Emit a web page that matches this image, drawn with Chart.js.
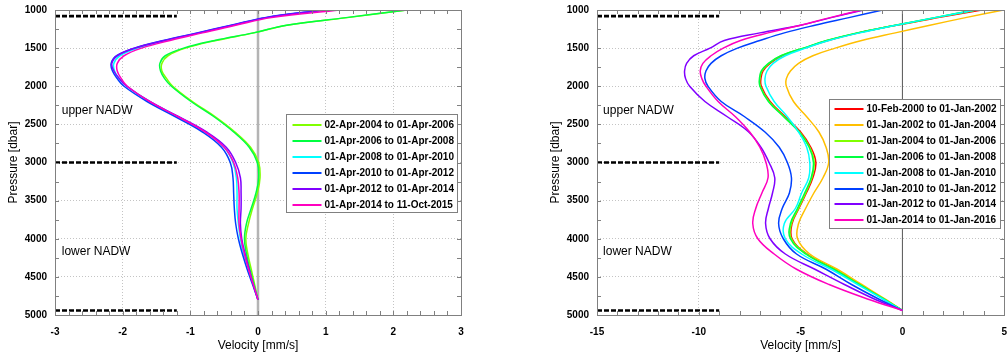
<!DOCTYPE html>
<html>
<head>
<meta charset="utf-8">
<title>NADW velocity profiles</title>
<script src="https://cdn.jsdelivr.net/npm/chart.js@4.4.1/dist/chart.umd.min.js"></script>
<style>
  html, body { margin: 0; padding: 0; background: #fff; }
  body { width: 1007px; height: 356px; position: relative; overflow: hidden; }
  /* canvases start 4px above the page so the plot box lands at y=10 */
  canvas { position: absolute; top: -4px; }
  #chart-left { left: 0; }
  #chart-right { left: 542px; }
</style>
</head>
<body>
<canvas id="chart-left" width="490" height="360"></canvas>
<canvas id="chart-right" width="476" height="360"></canvas>
<script>
'use strict';

/* ---------- values ---------- */

// left panel: 2-year means, Apr-2004 .. Oct-2015
const PRESSURE_LEFT = [1000, 1100, 1200, 1300, 1400, 1500, 1600, 1700, 1800, 1900, 2000,
  2200, 2400, 2600, 2800, 3000, 3200, 3400, 3600, 3800, 4000, 4200, 4400, 4600, 4800];

const V_2004_2006 = [2.2, 1.32, 0.43, -0.06, -0.62, -1.07, -1.33, -1.42, -1.42, -1.35, -1.26,
  -0.97, -0.63, -0.34, -0.11, 0.01, 0.03, -0.01, -0.08, -0.14, -0.18, -0.15, -0.1, -0.05, 0];
const V_2006_2008 = [2.2, 1.3, 0.42, -0.07, -0.64, -1.1, -1.37, -1.45, -1.44, -1.38, -1.28,
  -0.99, -0.65, -0.36, -0.13, -0.01, 0.01, -0.03, -0.1, -0.17, -0.2, -0.17, -0.12, -0.06, 0];
const V_2008_2010 = [1.0, 0.13, -0.37, -0.86, -1.35, -1.78, -2.04, -2.13, -2.12, -2.05, -1.94,
  -1.6, -1.18, -0.78, -0.5, -0.37, -0.32, -0.31, -0.31, -0.29, -0.26, -0.21, -0.14, -0.07, 0];
const V_2010_2012 = [0.95, 0.1, -0.4, -0.9, -1.4, -1.83, -2.09, -2.17, -2.15, -2.08, -1.98,
  -1.64, -1.22, -0.82, -0.54, -0.41, -0.37, -0.36, -0.35, -0.33, -0.29, -0.23, -0.16, -0.08, 0];
const V_2012_2014 = [1.0, 0.12, -0.38, -0.88, -1.38, -1.82, -2.08, -2.16, -2.13, -2.05, -1.94,
  -1.6, -1.17, -0.76, -0.47, -0.33, -0.26, -0.25, -0.25, -0.26, -0.24, -0.19, -0.13, -0.07, 0];
const V_2014_2015 = [1.21, 0.2, -0.33, -0.82, -1.3, -1.72, -1.98, -2.08, -2.08, -2.02, -1.93,
  -1.6, -1.18, -0.78, -0.5, -0.36, -0.3, -0.28, -0.28, -0.28, -0.25, -0.2, -0.14, -0.07, 0];

const LABELS_LEFT = [
  '02-Apr-2004 to 01-Apr-2006',
  '01-Apr-2006 to 01-Apr-2008',
  '01-Apr-2008 to 01-Apr-2010',
  '01-Apr-2010 to 01-Apr-2012',
  '01-Apr-2012 to 01-Apr-2014',
  '01-Apr-2014 to 11-Oct-2015',
];
const COLORS_LEFT = ['#80ff00', '#00ff40', '#00ffff', '#0040ff', '#8000ff', '#ff00bf'];

// right panel: 2-year means, Feb-2000 .. Jan-2016
const PRESSURE_RIGHT = [1000, 1100, 1200, 1300, 1400, 1500, 1600, 1700, 1800, 1900, 2000,
  2200, 2400, 2600, 2800, 3000, 3200, 3400, 3600, 3800, 4000, 4200, 4400, 4600, 4800, 4940];

const V_2000_2002 = [3.9, 1.75, -0.3, -2.15, -3.65, -4.8, -5.9, -6.5, -6.85, -6.95, -6.93,
  -6.5, -5.75, -5.0, -4.5, -4.25, -4.4, -4.72, -5.08, -5.42, -5.42, -4.68, -3.33, -2.08, -0.85, 0];
const V_2002_2004 = [4.96, 3.1, 1.35, -0.35, -2.0, -3.3, -4.4, -5.1, -5.5, -5.7, -5.7,
  -5.35, -4.7, -4.1, -3.75, -3.62, -3.9, -4.35, -4.75, -5.1, -5.15, -4.55, -3.2, -2.0, -0.8, 0];
const V_2004_2006R = [3.65, 1.62, -0.33, -2.2, -3.7, -4.85, -5.95, -6.55, -6.9, -7.0, -6.98,
  -6.55, -5.8, -5.05, -4.55, -4.33, -4.45, -4.75, -5.1, -5.45, -5.45, -4.7, -3.35, -2.1, -0.85, 0];
const V_2006_2008R = [3.55, 1.58, -0.35, -2.22, -3.72, -4.87, -5.97, -6.58, -6.93, -7.02, -7.0,
  -6.58, -5.83, -5.08, -4.58, -4.37, -4.48, -4.8, -5.15, -5.5, -5.5, -4.75, -3.38, -2.12, -0.86, 0];
const V_2008_2010R = [3.6, 1.6, -0.3, -2.1, -3.6, -4.75, -5.75, -6.35, -6.65, -6.75, -6.7,
  -6.3, -5.65, -5.1, -4.7, -4.55, -4.6, -4.95, -5.25, -5.8, -5.75, -4.95, -3.5, -2.2, -0.9, 0];
const V_2010_2012R = [-0.97, -2.63, -4.3, -5.8, -7.0, -8.1, -8.9, -9.4, -9.65, -9.7, -9.55,
  -8.9, -7.75, -6.75, -6.05, -5.65, -5.45, -5.55, -5.9, -6.08, -5.85, -5.2, -3.75, -2.5, -1.1, 0];
const V_2012_2014R = [-1.9, -3.5, -5.0, -7.0, -8.75, -9.45, -10.25, -10.6, -10.7, -10.65, -10.45,
  -9.7, -8.6, -7.55, -6.95, -6.55, -6.27, -6.38, -6.58, -6.72, -6.5, -5.75, -4.3, -2.85, -1.3, 0];
const V_2014_2016R = [-2.0, -3.55, -5.0, -6.6, -7.95, -8.8, -9.4, -9.8, -9.93, -9.85, -9.65,
  -9.05, -8.2, -7.5, -7.0, -6.7, -6.6, -6.9, -7.2, -7.35, -7.1, -6.3, -5.2, -3.6, -1.6, 0];

const LABELS_RIGHT = [
  '10-Feb-2000 to 01-Jan-2002',
  '01-Jan-2002 to 01-Jan-2004',
  '01-Jan-2004 to 01-Jan-2006',
  '01-Jan-2006 to 01-Jan-2008',
  '01-Jan-2008 to 01-Jan-2010',
  '01-Jan-2010 to 01-Jan-2012',
  '01-Jan-2012 to 01-Jan-2014',
  '01-Jan-2014 to 01-Jan-2016',
];
const COLORS_RIGHT = ['#ff0000', '#ffbf00', '#80ff00', '#00ff40', '#00ffff', '#0040ff', '#8000ff', '#ff00bf'];

// layer boundaries (dashed black) and their horizontal extent
const NADW_LEVELS = [1080, 3000, 4940];
const NADW_SPAN_LEFT = [-3, -1.2];
const NADW_SPAN_RIGHT = [-15, -9];

// axis ticks
const Y_TICKS = [1000, 1500, 2000, 2500, 3000, 3500, 4000, 4500, 5000];
const X_TICKS_LEFT = [-3, -2, -1, 0, 1, 2, 3];
const X_TICKS_RIGHT = [-15, -10, -5, 0, 5];

/* ---------- helpers ---------- */

const FONT = '"Liberation Sans", Arial, Helvetica, sans-serif';
Chart.defaults.font.family = FONT;
Chart.defaults.color = '#000';

function profile(label, color, pressure, vel, idx) {
  return {
    label,
    borderColor: color,
    backgroundColor: color,
    data: pressure.map((p, i) => ({ x: vel[i], y: p })),
    showLine: true,
    pointRadius: 0,
    borderWidth: 1.5,
    tension: 0.4,
    fill: false,
    order: -idx, // later periods are drawn on top, as in the original
  };
}

function nadwLine(level, span) {
  return {
    label: '',
    marker: true, // not listed in the legend
    data: span.map((v) => ({ x: v, y: level })),
    showLine: true,
    pointRadius: 0,
    borderColor: '#000',
    borderWidth: 2.6,
    borderDash: [5, 2],
  };
}

// box, inner minor ticks, zero line, layer names and legend
const profileFrame = {
  id: 'profileFrame',
  beforeDatasetsDraw(chart, args, o) {
    const { ctx, chartArea: a, scales: { x } } = chart;
    const x0 = x.getPixelForValue(0);
    ctx.save();
    ctx.strokeStyle = o.zeroColor;
    ctx.lineWidth = o.zeroWidth;
    ctx.beginPath();
    ctx.moveTo(x0, a.top);
    ctx.lineTo(x0, a.bottom);
    ctx.stroke();
    ctx.restore();
  },
  afterDraw(chart, args, o) {
    const { ctx, chartArea: a, scales: { x, y } } = chart;
    ctx.save();

    // minor ticks on all four sides, pointing inwards
    ctx.strokeStyle = '#808080';
    ctx.lineWidth = 1;
    ctx.beginPath();
    const nx = Math.round((x.max - x.min) / o.xMinor);
    for (let i = 0; i <= nx; i++) {
      const px = Math.round(x.getPixelForValue(x.min + i * o.xMinor)) + 0.5;
      ctx.moveTo(px, a.top); ctx.lineTo(px, a.top + o.tickLen);
      ctx.moveTo(px, a.bottom); ctx.lineTo(px, a.bottom - o.tickLen);
    }
    const ny = Math.round((y.max - y.min) / o.yMinor);
    for (let i = 0; i <= ny; i++) {
      const py = Math.round(y.getPixelForValue(y.min + i * o.yMinor)) + 0.5;
      ctx.moveTo(a.left, py); ctx.lineTo(a.left + o.tickLen, py);
      ctx.moveTo(a.right, py); ctx.lineTo(a.right - o.tickLen, py);
    }
    ctx.stroke();

    // plot box
    ctx.strokeStyle = '#808080';
    ctx.strokeRect(Math.round(a.left) + 0.5, Math.round(a.top) + 0.5,
      Math.round(a.right - a.left), Math.round(a.bottom - a.top));

    // layer names
    ctx.fillStyle = '#000';
    ctx.font = '12px ' + FONT;
    ctx.textAlign = 'left';
    ctx.textBaseline = 'middle';
    o.notes.forEach((n) => {
      ctx.fillText(n.text, x.getPixelForValue(n.x), y.getPixelForValue(n.y));
    });

    // legend
    const L = o.legend;
    const items = chart.data.datasets.filter((d) => !d.marker);
    ctx.font = 'bold 10px ' + FONT;
    const textW = Math.max(...items.map((d) => ctx.measureText(d.label).width));
    const w = Math.round(L.padL + L.sample + L.gap + textW + L.padR);
    const h = Math.round(L.first + (items.length - 1) * L.row + L.last);
    const bx = Math.round(a.right - L.right - w) + 0.5;
    const by = Math.round(a.top + L.top) + 0.5;
    ctx.fillStyle = '#fff';
    ctx.fillRect(bx, by, w, h);
    ctx.strokeStyle = '#808080';
    ctx.lineWidth = 1;
    ctx.strokeRect(bx, by, w, h);
    items.forEach((d, i) => {
      const cy = Math.round(by + L.first + i * L.row);
      ctx.strokeStyle = d.borderColor;
      ctx.lineWidth = 2;
      ctx.beginPath();
      ctx.moveTo(bx + L.padL, cy);
      ctx.lineTo(bx + L.padL + L.sample, cy);
      ctx.stroke();
      ctx.fillStyle = '#000';
      ctx.fillText(d.label, bx + L.padL + L.sample + L.gap, cy + 0.5);
    });

    ctx.restore();
  },
};

function makeChart(id, cfg) {
  const datasets = cfg.labels.map((lab, i) =>
    profile(lab, cfg.colors[i], cfg.pressure, cfg.series[i], i));
  NADW_LEVELS.forEach((lvl) => datasets.push(nadwLine(lvl, cfg.nadwSpan)));

  return new Chart(document.getElementById(id), {
    type: 'scatter',
    data: { datasets },
    plugins: [profileFrame],
    options: {
      responsive: false,
      animation: false,
      events: [],
      layout: { padding: { top: 10, right: cfg.padRight, bottom: 0, left: 0 } },
      plugins: {
        legend: { display: false },
        tooltip: { enabled: false },
        profileFrame: {
          xMinor: cfg.xMinor,
          yMinor: 250,
          tickLen: 4,
          zeroColor: cfg.zeroColor,
          zeroWidth: cfg.zeroWidth,
          notes: [
            { text: 'upper NADW', x: cfg.noteX, y: 2315 },
            { text: 'lower NADW', x: cfg.noteX, y: 4170 },
          ],
          legend: cfg.legend,
        },
      },
      scales: {
        x: {
          type: 'linear',
          min: cfg.xTicks[0],
          max: cfg.xTicks[cfg.xTicks.length - 1],
          afterBuildTicks: (s) => { s.ticks = cfg.xTicks.map((v) => ({ value: v })); },
          afterFit: (s) => { s.height = 41; },
          ticks: {
            callback: (v) => String(v),
            font: { size: 10, weight: 'bold' },
            padding: 11,
            maxRotation: 0,
          },
          grid: {
            drawTicks: false,
            color: (c) => (c.tick && c.tick.value === 0 ? 'rgba(0,0,0,0)' : '#c4c4c4'),
          },
          border: { display: false, dash: [1, 2] },
          title: {
            display: true,
            text: 'Velocity [mm/s]',
            font: { size: 12 },
            padding: { top: 0, bottom: 3 },
          },
        },
        y: {
          type: 'linear',
          reverse: true,
          min: Y_TICKS[0],
          max: Y_TICKS[Y_TICKS.length - 1],
          afterBuildTicks: (s) => { s.ticks = Y_TICKS.map((v) => ({ value: v })); },
          afterFit: (s) => { s.width = 55; },
          ticks: {
            callback: (v) => String(v),
            font: { size: 10, weight: 'bold' },
            padding: 8,
          },
          grid: { drawTicks: false, color: '#c4c4c4' },
          border: { display: false, dash: [1, 2] },
          title: {
            display: true,
            text: 'Pressure [dbar]',
            font: { size: 12 },
            padding: { top: 6, bottom: 0 },
          },
        },
      },
    },
  });
}

/* ---------- build both panels ---------- */

document.addEventListener('DOMContentLoaded', () => {
  makeChart('chart-left', {
    labels: LABELS_LEFT,
    colors: COLORS_LEFT,
    pressure: PRESSURE_LEFT,
    series: [V_2004_2006, V_2006_2008, V_2008_2010, V_2010_2012, V_2012_2014, V_2014_2015],
    nadwSpan: NADW_SPAN_LEFT,
    xTicks: X_TICKS_LEFT,
    xMinor: 0.2,
    padRight: 29,
    zeroColor: '#b4b4b4',
    zeroWidth: 2.5,
    noteX: -2.9,
    legend: { right: 4, top: 103.5, padL: 6, sample: 29, gap: 3, padR: 4, first: 10, row: 16, last: 8 },
  });

  makeChart('chart-right', {
    labels: LABELS_RIGHT,
    colors: COLORS_RIGHT,
    pressure: PRESSURE_RIGHT,
    series: [V_2000_2002, V_2002_2004, V_2004_2006R, V_2006_2008R,
      V_2008_2010R, V_2010_2012R, V_2012_2014R, V_2014_2016R],
    nadwSpan: NADW_SPAN_RIGHT,
    xTicks: X_TICKS_RIGHT,
    xMinor: 1,
    padRight: 3,
    zeroColor: '#555555',
    zeroWidth: 1,
    noteX: -14.7,
    legend: { right: 4, top: 88.5, padL: 5, sample: 29, gap: 3, padR: 4, first: 9.5, row: 15.9, last: 8.5 },
  });
});
</script>
</body>
</html>
